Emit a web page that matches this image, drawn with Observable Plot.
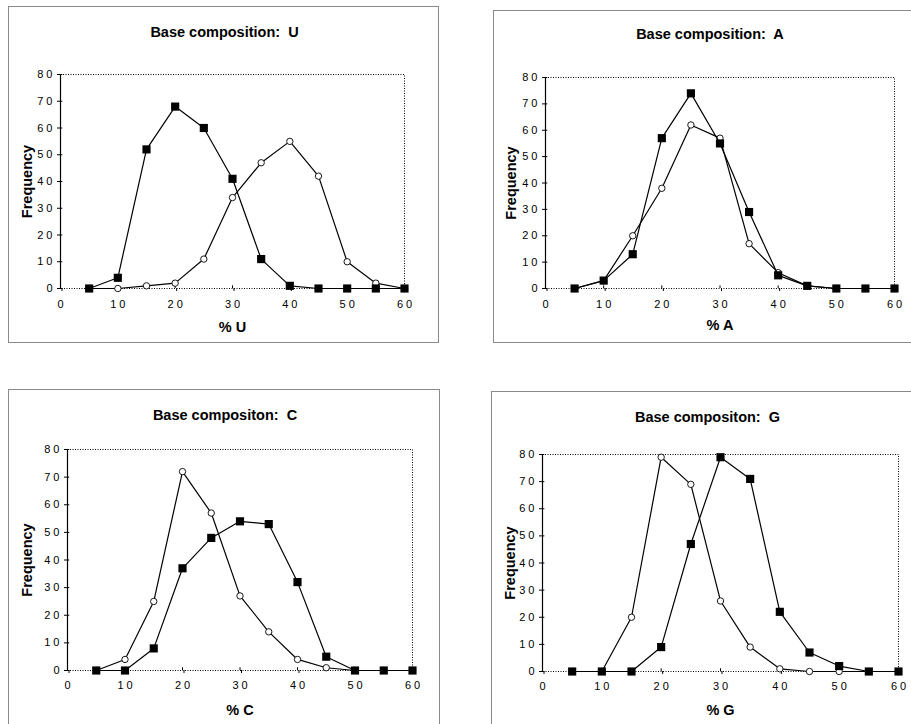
<!DOCTYPE html>
<html>
<head>
<meta charset="utf-8">
<script src="https://cdn.jsdelivr.net/npm/d3@7"></script>
<script src="https://cdn.jsdelivr.net/npm/@observablehq/plot@0.6"></script>
<style>
  html, body { margin: 0; padding: 0; background: #fff; overflow: hidden; }
  #root { position: relative; width: 911px; height: 724px; overflow: hidden; }
  .panel { position: absolute; }
  .panel svg { display: block; }
  .border { position: absolute; box-sizing: border-box; border: 1px solid #8a8a8a; pointer-events: none; }
  .panel g[aria-label$="tick label"] text { letter-spacing: 3px; }
</style>
</head>
<body>
<div id="root"></div>
<script>
// ---- Data ----
const bins = [5, 10, 15, 20, 25, 30, 35, 40, 45, 50, 55, 60];
const xTicks = [0, 10, 20, 30, 40, 50, 60];
const yTicks = [0, 10, 20, 30, 40, 50, 60, 70, 80];

const uSquares = [0, 4, 52, 68, 60, 41, 11, 1, 0, 0, 0, 0];
const uCircles = [0, 0, 1, 2, 11, 34, 47, 55, 42, 10, 2, 0];

const aSquares = [0, 3, 13, 57, 74, 55, 29, 5, 1, 0, 0, 0];
const aCircles = [0, 3, 20, 38, 62, 57, 17, 6, 1, 0, 0, 0];

const cSquares = [0, 0, 8, 37, 48, 54, 53, 32, 5, 0, 0, 0];
const cCircles = [0, 4, 25, 72, 57, 27, 14, 4, 1, 0, 0, 0];

const gSquares = [0, 0, 0, 9, 47, 79, 71, 22, 7, 2, 0, 0];
const gCircles = [0, 0, 20, 79, 69, 26, 9, 1, 0, 0, 0, 0];

const titles = ["Base composition:\u00a0 U", "Base composition:\u00a0 A", "Base compositon:\u00a0 C", "Base compositon:\u00a0 G"];
const xLabels = ["% U", "% A", "% C", "% G"];
const yLabel = "Frequency";

// ---- Layout (page pixels) ----
const panels = [
  {title: titles[0], xLabel: xLabels[0], sq: uSquares, ci: uCircles,
   box: {l: 8, t: 6, r: 439, b: 343}, plot: {x0: 60, x1: 404, y1: 74, y0: 288},
   titleDx: -8, titleDy: -42, yDx: -33, tickPad: 12, xTitleDy: 39},
  {title: titles[1], xLabel: xLabels[1], sq: aSquares, ci: aCircles,
   box: {l: 493, t: 10, r: 912, b: 343}, plot: {x0: 545, x1: 894, y1: 77, y0: 288},
   titleDx: -10, titleDy: -43, yDx: -34, tickPad: 12, xTitleDy: 37},
  {title: titles[2], xLabel: xLabels[2], sq: cSquares, ci: cCircles,
   box: {l: 8, t: 389, r: 440, b: 740}, plot: {x0: 67, x1: 412, y1: 449, y0: 670},
   titleDx: -15, titleDy: -34, yDx: -40, tickPad: 11, xTitleDy: 40},
  {title: titles[3], xLabel: xLabels[3], sq: gSquares, ci: gCircles,
   box: {l: 491, t: 391, r: 912, b: 740}, plot: {x0: 542, x1: 898, y1: 454, y0: 671},
   titleDx: -13, titleDy: -37, yDx: -32, tickPad: 11, xTitleDy: 39}
];

const root = document.getElementById("root");
const font = "'Liberation Sans', Arial, Helvetica, sans-serif";
const bold = {fontWeight: "bold", fontSize: 14.5, lineAnchor: "middle", textAnchor: "middle"};

for (const p of panels) {
  const W = p.box.r - p.box.l, H = p.box.b - p.box.t;
  const squares = bins.map((x, i) => ({x, y: p.sq[i]}));
  const circles = bins.map((x, i) => ({x, y: p.ci[i]}));

  const chart = Plot.plot({
    width: W,
    height: H,
    marginLeft: p.plot.x0 - p.box.l,
    marginRight: p.box.r - p.plot.x1,
    marginTop: p.plot.y1 - p.box.t,
    marginBottom: p.box.b - p.plot.y0,
    style: {fontFamily: font, fontSize: "11px", color: "#000", background: "transparent", overflow: "visible"},
    x: {domain: [0, 60]},
    y: {domain: [0, 80]},
    marks: [
      Plot.frame({stroke: "#000", strokeWidth: 1, strokeDasharray: "1,1.5"}),
      Plot.ruleX([0], {stroke: "#000", strokeWidth: 1.2}),
      Plot.axisY({ticks: yTicks, tickSize: 3, tickPadding: 2, label: null, fontSize: 11, tickFormat: d => String(d)}),
      Plot.ruleY(yTicks, {y: d => d, x1: 0, x2: 0.4, stroke: "#000"}),
      Plot.axisX({ticks: xTicks, tickSize: 3, tickPadding: p.tickPad - 3, dx: 1.5, label: null, fontSize: 11, tickFormat: d => String(d)}),
      Plot.ruleX(xTicks, {x: d => d, y1: 0, y2: 1.0, stroke: "#000"}),
      Plot.line(circles, {x: "x", y: "y", stroke: "#000", strokeWidth: 1.2}),
      Plot.dot(circles, {x: "x", y: "y", r: 3.2, fill: "#fff", stroke: "#000", strokeWidth: 0.9}),
      Plot.line(squares, {x: "x", y: "y", stroke: "#000", strokeWidth: 1.2}),
      Plot.dot(squares, {x: "x", y: "y", r: 4.6, symbol: "square", fill: "#000", stroke: "none"}),
      Plot.text([p.title], {text: d => d, frameAnchor: "top", dx: p.titleDx, dy: p.titleDy, ...bold}),
      Plot.text([yLabel], {text: d => d, frameAnchor: "left", dx: p.yDx, rotate: -90, ...bold}),
      Plot.text([p.xLabel], {text: d => d, frameAnchor: "bottom", dy: p.xTitleDy, ...bold})
    ]
  });

  const div = document.createElement("div");
  div.className = "panel";
  div.style.left = p.box.l + "px";
  div.style.top = p.box.t + "px";
  div.style.width = W + "px";
  div.style.height = H + "px";
  div.appendChild(chart);
  root.appendChild(div);

  const border = document.createElement("div");
  border.className = "border";
  border.style.left = p.box.l + "px";
  border.style.top = p.box.t + "px";
  border.style.width = W + "px";
  border.style.height = H + "px";
  root.appendChild(border);
}
</script>
</body>
</html>
